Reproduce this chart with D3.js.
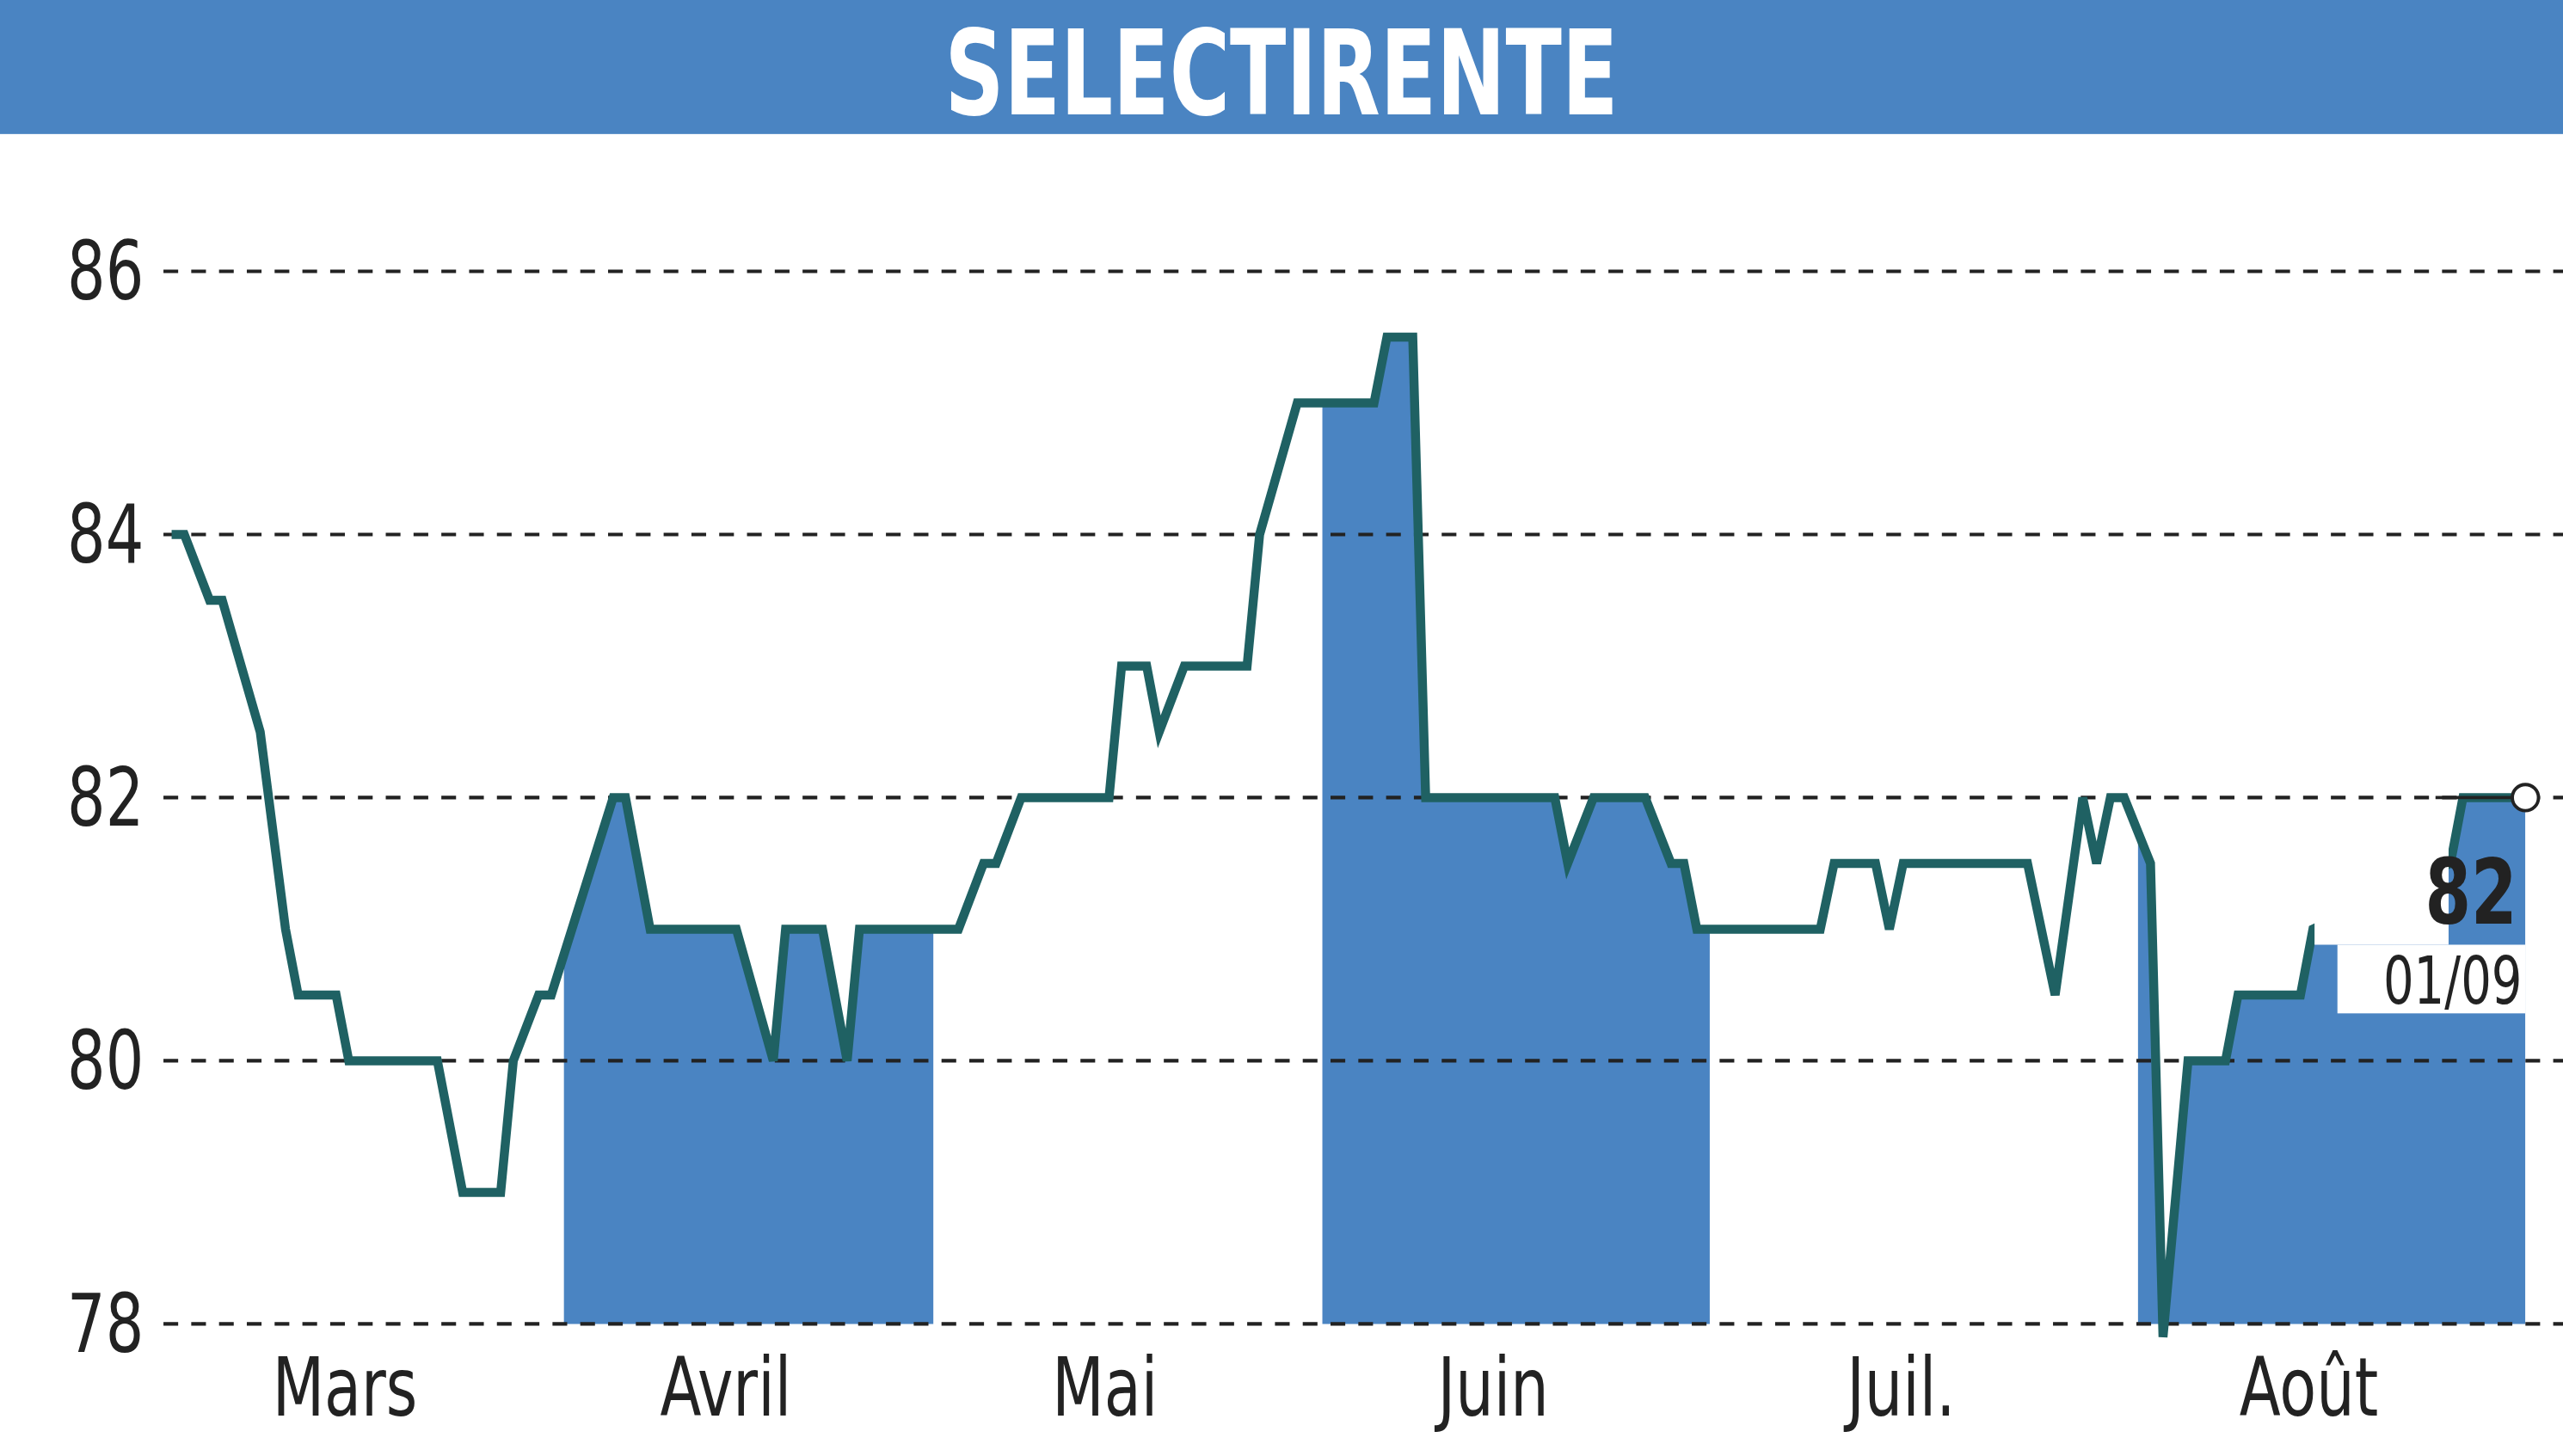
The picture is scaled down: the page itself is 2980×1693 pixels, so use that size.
<!DOCTYPE html>
<html><head><meta charset="utf-8">
<script src="https://cdn.jsdelivr.net/npm/d3@7"></script>
<style>body{margin:0;background:#fff}svg{display:block}</style>
</head><body>
<script>
// Cours SELECTIRENTE
const dates = ["2024-03-01","2024-03-02","2024-03-04","2024-03-05","2024-03-08","2024-03-10","2024-03-11","2024-03-14","2024-03-15","2024-03-22","2024-03-24","2024-03-27","2024-03-28","2024-03-30","2024-03-31",
 "2024-04-05","2024-04-06","2024-04-08","2024-04-15","2024-04-18","2024-04-19","2024-04-22","2024-04-24","2024-04-25",
 "2024-05-03","2024-05-05","2024-05-06","2024-05-08","2024-05-15","2024-05-16","2024-05-18","2024-05-19","2024-05-21","2024-05-26","2024-05-27","2024-05-30",
 "2024-06-05","2024-06-06","2024-06-08","2024-06-09","2024-06-19","2024-06-20","2024-06-22","2024-06-26","2024-06-28","2024-06-29","2024-06-30",
 "2024-07-09","2024-07-10","2024-07-13","2024-07-14","2024-07-15","2024-07-24","2024-07-26","2024-07-28","2024-07-29","2024-07-30","2024-07-31",
 "2024-08-02","2024-08-03","2024-08-05","2024-08-08","2024-08-09","2024-08-14","2024-08-15","2024-08-26","2024-08-27","2024-09-01"];
const values = [84,84,83.5,83.5,82.5,81,80.5,80.5,80,80,79,79,80,80.5,80.5,
 82,82,81,81,80,81,81,80,81,
 81,81.5,81.5,82,82,83,83,82.5,83,83,84,85,
 85,85.5,85.5,82,82,81.5,82,82,81.5,81.5,81,
 81,81.5,81.5,81,81.5,81.5,80.5,82,81.5,82,82,
 81.5,77.9,80,80,80.5,80.5,81,81.5,82,82];
const monthStarts = ["2024-03-01","2024-04-01","2024-05-01","2024-06-01","2024-07-01","2024-08-01","2024-09-01"];
const monthLabels = ["Mars","Avril","Mai","Juin","Juil.","Août"];
const yTicks = [78,80,82,84,86];
const shadedMonths = [1,3,5];

const S = 2980/1568, W = 2980, H = 1693;
const parse = d3.timeParse("%Y-%m-%d");
const data = dates.map((d,i)=>({date:parse(d), v:values[i]}));
const ms = monthStarts.map(parse);

const x = d3.scaleTime().domain(ms).range([105,345,571,809,1046,1308,1545].map(v=>v*S));
const y = d3.scaleLinear().domain([78,86]).range([810*S,166*S]);
const font = "'DejaVu Sans Condensed','DejaVu Sans',sans-serif";
const SX = 0.82; // horizontal squeeze for condensed look

function ctext(px, py, size, str, anchor, bold, fill) {
  svg.append("text").attr("transform",`translate(${px},${py}) scale(${SX},1)`)
    .attr("text-anchor",anchor).attr("font-family",font).attr("font-size",size)
    .attr("font-weight",bold?"bold":"normal").attr("fill",fill||"#222").text(str);
}

const svg = d3.select("body").append("svg").attr("width",W).attr("height",H);
svg.append("rect").attr("width",W).attr("height",82*S).attr("fill","#4a84c2");
svg.append("text").attr("x",784*S).attr("y",70*S).attr("text-anchor","middle")
  .attr("fill","#fff").attr("font-family",font).attr("font-weight","bold")
  .attr("font-size",72*S).attr("textLength",412*S).attr("lengthAdjust","spacingAndGlyphs").text("SELECTIRENTE");

// shading
const defs = svg.append("defs");
const cp = defs.append("clipPath").attr("id","months");
shadedMonths.forEach(m=>cp.append("rect").attr("x",x(ms[m])).attr("width",x(ms[m+1])-x(ms[m]))
  .attr("y",0).attr("height",H));
svg.append("path").datum(data).attr("clip-path","url(#months)").attr("fill","#4a84c2")
  .attr("d",d3.area().x(d=>x(d.date)).y0(y(78)).y1(d=>y(d.v)));

// grid
yTicks.forEach(t=>{
  svg.append("line").attr("x1",100*S).attr("x2",W).attr("y1",y(t)).attr("y2",y(t))
    .attr("stroke","#222").attr("stroke-width",2.2*S).attr("stroke-dasharray",`${9*S},${8*S}`);
  ctext(88*S, y(t)+17*S, 50*S, t, "end");
});
monthLabels.forEach((m,i)=>{
  const cx = (x(ms[i])+x(ms[i+1]))/2 - 14*S;
  ctext(cx, 866*S, 50*S, m, "middle");
});

// line
svg.append("path").datum(data).attr("fill","none").attr("stroke","#1f6163")
  .attr("stroke-width",5.5*S).attr("stroke-linejoin","miter")
  .attr("d",d3.line().x(d=>x(d.date)).y(d=>y(d.v)));

// last value label area
const last = data[data.length-1];
svg.append("rect").attr("x",1416*S).attr("y",500*S).attr("width",82*S).attr("height",78*S).attr("fill","#fff");
svg.append("line").attr("x1",x(last.date)-55*S).attr("x2",x(last.date)).attr("y1",y(last.v)).attr("y2",y(last.v))
  .attr("stroke","#222").attr("stroke-width",2*S);
svg.append("circle").attr("cx",x(last.date)).attr("cy",y(last.v)).attr("r",8*S)
  .attr("fill","#fff").attr("stroke","#222").attr("stroke-width",2*S);
svg.append("rect").attr("x",1430*S).attr("y",578*S).attr("width",115*S).attr("height",42*S).attr("fill","#fff");
ctext(1540*S, 565*S, 55*S, last.v, "end", true);
ctext(1543*S, 614*S, 40*S, "01/09", "end");
</script>
</body></html>
